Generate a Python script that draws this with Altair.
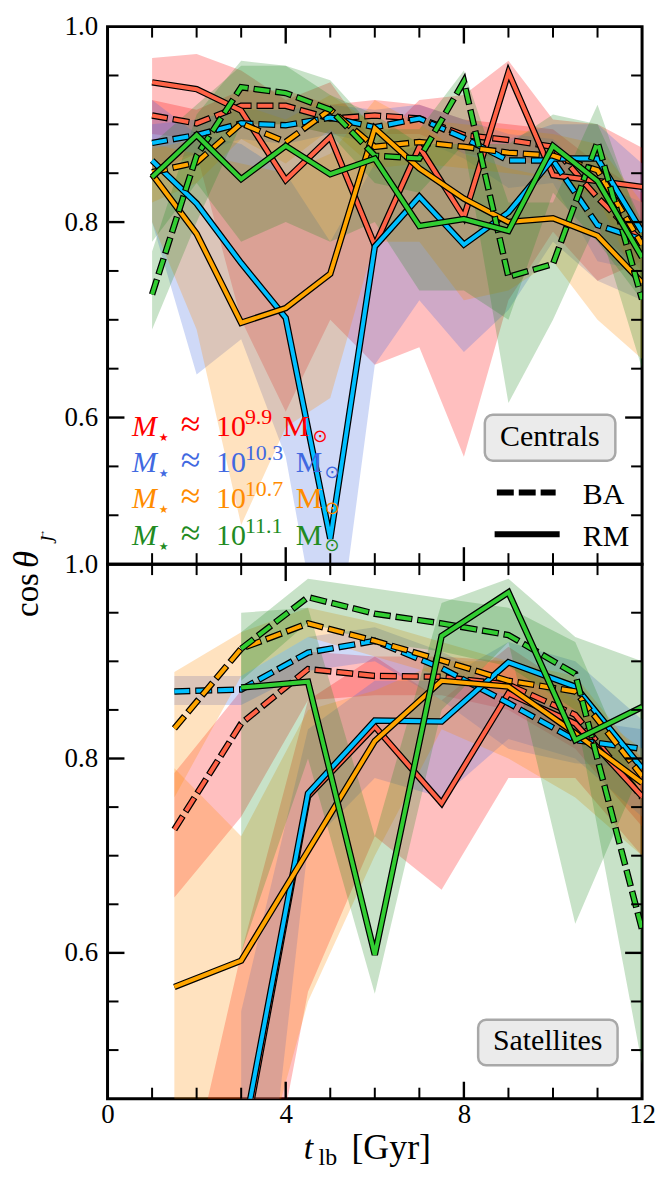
import altair as alt
import pandas as pd

# ---------------- data ----------------
t_cen = [1, 2, 3, 4, 5, 6, 7, 8, 9, 10, 11, 12]
t_sat = [1.5, 3, 4.5, 6, 7.5, 9, 10.5, 12]

# Centrals
cen_ba_99 = [0.909, 0.901, 0.919, 0.919, 0.906, 0.909, 0.906, 0.889, 0.884, 0.877, 0.825, 0.780]
cen_ba_99_lo = [0.890, 0.885, 0.900, 0.900, 0.890, 0.890, 0.890, 0.870, 0.865, 0.855, 0.790, 0.750]
cen_ba_99_hi = [0.925, 0.915, 0.935, 0.935, 0.920, 0.925, 0.920, 0.905, 0.900, 0.895, 0.860, 0.830]
cen_rm_99 = [0.943, 0.936, 0.914, 0.843, 0.887, 0.776, 0.877, 0.805, 0.953, 0.848, 0.842, 0.836]
cen_rm_99_lo = [0.850, 0.870, 0.700, 0.606, 0.700, 0.654, 0.672, 0.560, 0.720, 0.790, 0.740, 0.760]
cen_rm_99_hi = [0.968, 0.972, 0.955, 0.925, 0.943, 0.880, 0.925, 0.930, 0.965, 0.905, 0.900, 0.876]

cen_ba_103 = [0.881, 0.889, 0.901, 0.899, 0.907, 0.897, 0.906, 0.886, 0.863, 0.863, 0.797, 0.782]
cen_ba_103_lo = [0.860, 0.870, 0.885, 0.880, 0.890, 0.880, 0.885, 0.865, 0.835, 0.840, 0.760, 0.750]
cen_ba_103_hi = [0.900, 0.905, 0.915, 0.915, 0.920, 0.915, 0.920, 0.905, 0.890, 0.885, 0.840, 0.820]
cen_rm_103 = [0.863, 0.819, 0.758, 0.702, 0.476, 0.775, 0.826, 0.777, 0.810, 0.865, 0.865, 0.790]
cen_rm_103_lo = [0.800, 0.644, 0.680, 0.560, 0.310, 0.654, 0.720, 0.667, 0.710, 0.780, 0.740, 0.720]
cen_rm_103_hi = [0.925, 0.890, 0.880, 0.850, 0.780, 0.860, 0.880, 0.875, 0.885, 0.900, 0.900, 0.860]

cen_ba_107 = [0.851, 0.861, 0.901, 0.882, 0.915, 0.877, 0.882, 0.877, 0.871, 0.868, 0.853, 0.777]
cen_ba_107_lo = [0.820, 0.840, 0.885, 0.860, 0.895, 0.855, 0.860, 0.855, 0.850, 0.845, 0.825, 0.730]
cen_ba_107_hi = [0.875, 0.885, 0.920, 0.905, 0.930, 0.900, 0.905, 0.900, 0.895, 0.890, 0.880, 0.820]
cen_rm_107 = [0.849, 0.788, 0.697, 0.712, 0.747, 0.896, 0.855, 0.824, 0.800, 0.804, 0.786, 0.738]
cen_rm_107_lo = [0.800, 0.690, 0.490, 0.590, 0.620, 0.780, 0.780, 0.720, 0.730, 0.760, 0.700, 0.660]
cen_rm_107_hi = [0.880, 0.870, 0.860, 0.850, 0.870, 0.925, 0.900, 0.870, 0.855, 0.845, 0.835, 0.800]

cen_ba_111 = [0.726, 0.868, 0.938, 0.932, 0.915, 0.868, 0.865, 0.944, 0.744, 0.757, 0.882, 0.721]
cen_ba_111_lo = [0.690, 0.800, 0.900, 0.900, 0.890, 0.840, 0.830, 0.880, 0.615, 0.700, 0.800, 0.650]
cen_ba_111_hi = [0.770, 0.910, 0.965, 0.960, 0.945, 0.895, 0.895, 0.955, 0.820, 0.820, 0.920, 0.790]
cen_rm_111 = [0.846, 0.889, 0.844, 0.878, 0.849, 0.865, 0.796, 0.803, 0.791, 0.878, 0.842, 0.764]
cen_rm_111_lo = [0.780, 0.840, 0.780, 0.800, 0.780, 0.800, 0.730, 0.730, 0.700, 0.830, 0.780, 0.720]
cen_rm_111_hi = [0.880, 0.920, 0.960, 0.960, 0.930, 0.910, 0.880, 0.880, 0.880, 0.910, 0.900, 0.800]

# Satellites
sat_ba_99 = [0.727, 0.836, 0.892, 0.885, 0.884, 0.876, 0.845, 0.760]
sat_ba_99_lo = [0.657, 0.740, 0.860, 0.865, 0.865, 0.850, 0.810, 0.730]
sat_ba_99_hi = [0.785, 0.870, 0.910, 0.905, 0.905, 0.900, 0.875, 0.790]
sat_rm_99 = [None, 0.390, 0.761, 0.833, 0.754, 0.867, 0.836, 0.761]
sat_rm_99_lo = [0.100, 0.200, 0.560, 0.720, 0.665, 0.780, 0.780, 0.700]
sat_rm_99_hi = [0.300, 0.600, 0.860, 0.905, 0.860, 0.915, 0.870, 0.800]

sat_ba_103 = [0.869, 0.871, 0.909, 0.921, 0.893, 0.857, 0.819, 0.810]
sat_ba_103_lo = [0.855, 0.855, 0.890, 0.900, 0.860, 0.810, 0.795, 0.790]
sat_ba_103_hi = [0.885, 0.885, 0.925, 0.935, 0.910, 0.875, 0.840, 0.830]
sat_rm_103 = [None, 0.400, 0.764, 0.839, 0.838, 0.899, 0.874, 0.790]
sat_rm_103_lo = [None, 0.100, 0.710, 0.780, 0.760, 0.820, 0.800, 0.740]
sat_rm_103_hi = [None, 0.540, 0.830, 0.880, 0.880, 0.920, 0.900, 0.840]

sat_ba_107 = [0.831, 0.913, 0.939, 0.921, 0.901, 0.880, 0.869, 0.782]
sat_ba_107_lo = [0.760, 0.885, 0.925, 0.905, 0.885, 0.865, 0.850, 0.760]
sat_ba_107_hi = [0.889, 0.930, 0.955, 0.940, 0.920, 0.900, 0.885, 0.800]
sat_rm_107 = [0.565, 0.592, 0.705, 0.818, 0.880, 0.874, 0.826, 0.775]
sat_rm_107_lo = [0.200, 0.300, 0.550, 0.700, 0.830, 0.800, 0.760, 0.700]
sat_rm_107_hi = [0.790, 0.720, 0.850, 0.870, 0.900, 0.900, 0.860, 0.810]

sat_ba_111 = [None, 0.913, 0.966, 0.949, 0.939, 0.927, 0.887, 0.624]
sat_ba_111_lo = [None, 0.880, 0.940, 0.920, 0.910, 0.895, 0.850, 0.485]
sat_ba_111_hi = [None, 0.930, 0.985, 0.975, 0.965, 0.955, 0.920, 0.760]
sat_rm_111 = [None, 0.873, 0.879, 0.598, 0.926, 0.971, 0.819, 0.853]
sat_rm_111_lo = [None, 0.600, 0.800, 0.558, 0.850, 0.920, 0.630, 0.790]
sat_rm_111_hi = [None, 0.950, 0.955, 0.720, 0.960, 0.985, 0.925, 0.900]

mass_keys = ["99", "103", "107", "111"]
mass_exp = ["9.9", "10.3", "10.7", "11.1"]

x_major = [4, 8]
x_minor = [1, 2, 3, 5, 6, 7, 9, 10, 11]
y_major = [0.6, 0.8]
y_minor = [0.5, 0.55, 0.65, 0.7, 0.75, 0.85, 0.9, 0.95]

# ---------------- styling ----------------
W = 537
H_TOP = 540
H_BOT = 537
SERIF = "Liberation Serif, DejaVu Serif, serif"
SYM = "DejaVu Sans, sans-serif"
BAND_COLORS = {"99": "red", "103": "royalblue", "107": "darkorange", "111": "forestgreen"}
LINE_COLORS = {"99": "tomato", "103": "deepskyblue", "107": "orange", "111": "limegreen"}
TEXT_COLORS = {"99": "red", "103": "royalblue", "107": "darkorange", "111": "forestgreen"}

xs = alt.Scale(domain=[0, 12], nice=False, zero=False)
ys = alt.Scale(domain=[0.45, 1.0], nice=False, zero=False)

ax_y = alt.Axis(values=[0.6, 0.8, 1.0], format=".1f", labelFlush=False, labelPadding=10,
                labelOverlap=False)
ax_x_bot = alt.Axis(values=[0, 4, 8, 12], format="d", labelFlush=False, labelPadding=3,
                    labelOverlap=False)

cen = {
    "99": (cen_ba_99, cen_ba_99_lo, cen_ba_99_hi, cen_rm_99, cen_rm_99_lo, cen_rm_99_hi),
    "103": (cen_ba_103, cen_ba_103_lo, cen_ba_103_hi, cen_rm_103, cen_rm_103_lo, cen_rm_103_hi),
    "107": (cen_ba_107, cen_ba_107_lo, cen_ba_107_hi, cen_rm_107, cen_rm_107_lo, cen_rm_107_hi),
    "111": (cen_ba_111, cen_ba_111_lo, cen_ba_111_hi, cen_rm_111, cen_rm_111_lo, cen_rm_111_hi),
}
sat = {
    "99": (sat_ba_99, sat_ba_99_lo, sat_ba_99_hi, sat_rm_99, sat_rm_99_lo, sat_rm_99_hi),
    "103": (sat_ba_103, sat_ba_103_lo, sat_ba_103_hi, sat_rm_103, sat_rm_103_lo, sat_rm_103_hi),
    "107": (sat_ba_107, sat_ba_107_lo, sat_ba_107_hi, sat_rm_107, sat_rm_107_lo, sat_rm_107_hi),
    "111": (sat_ba_111, sat_ba_111_lo, sat_ba_111_hi, sat_rm_111, sat_rm_111_lo, sat_rm_111_hi),
}


def X(field, ax):
    return alt.X(field, type="quantitative", scale=xs, axis=ax, title=None)


def Y(field):
    return alt.Y(field, type="quantitative", scale=ys, axis=ax_y, title=None)


def data_layers(t, table, ax_x):
    layers = []
    # bands first
    for k in mass_keys:
        ba, ba_lo, ba_hi, rm, rm_lo, rm_hi = table[k]
        for lo, hi in ((ba_lo, ba_hi), (rm_lo, rm_hi)):
            df = pd.DataFrame({"t": t, "lo": lo, "hi": hi}).dropna()
            layers.append(
                alt.Chart(df).mark_area(color=BAND_COLORS[k], opacity=0.25, clip=True).encode(
                    x=X("t", ax_x), y=Y("lo"), y2="hi")
            )
    # lines with black outline
    for k in mass_keys:
        ba, ba_lo, ba_hi, rm, rm_lo, rm_hi = table[k]
        for vals, dashed in ((ba, True), (rm, False)):
            df = pd.DataFrame({"t": t, "v": vals}).dropna()
            if dashed:
                outer = alt.Chart(df).mark_line(color="black", strokeWidth=6.5, strokeDash=[17, 5],
                                                strokeDashOffset=1, clip=True)
                inner = alt.Chart(df).mark_line(color=LINE_COLORS[k], strokeWidth=4, strokeDash=[15, 7],
                                                clip=True)
            else:
                outer = alt.Chart(df).mark_line(color="black", strokeWidth=6.5, clip=True)
                inner = alt.Chart(df).mark_line(color=LINE_COLORS[k], strokeWidth=4, clip=True)
            layers.append(outer.encode(x=X("t", ax_x), y=Y("v")))
            layers.append(inner.encode(x=X("t", ax_x), y=Y("v")))
    return layers


def tick_layers(height, ax_x):
    layers = []
    for vals, L, sw in ((x_major, 17, 2.4), (x_minor, 11, 2.0)):
        df = pd.DataFrame({"v": vals})
        layers.append(alt.Chart(df).mark_rule(color="black", strokeWidth=sw).encode(
            x=X("v", ax_x), y=alt.value(height), y2=alt.value(height - L)))
        layers.append(alt.Chart(df).mark_rule(color="black", strokeWidth=sw).encode(
            x=X("v", ax_x), y=alt.value(0), y2=alt.value(L)))
    for vals, L, sw in ((y_major, 17, 2.4), (y_minor, 11, 2.0)):
        df = pd.DataFrame({"v": vals})
        layers.append(alt.Chart(df).mark_rule(color="black", strokeWidth=sw).encode(
            y=Y("v"), x=alt.value(0), x2=alt.value(L)))
        layers.append(alt.Chart(df).mark_rule(color="black", strokeWidth=sw).encode(
            y=Y("v"), x=alt.value(W), x2=alt.value(W - L)))
    return layers


def text_at(x, y, s, ax_x, **kw):
    df = pd.DataFrame({"x": [x], "y": [y], "s": [s]})
    return alt.Chart(df).mark_text(**kw).encode(x=X("x", ax_x), y=Y("y"), text="s:N")


def box(x1, x2, y1, y2, ax_x):
    df = pd.DataFrame({"x1": [x1], "x2": [x2], "y1": [y1], "y2": [y2]})
    return alt.Chart(df).mark_rect(fill="#ebebeb", stroke="#a8a8a8", strokeWidth=2.5,
                                   cornerRadius=8).encode(
        x=X("x1", ax_x), x2="x2", y=Y("y1"), y2="y2")


# ---------------- top panel (Centrals) ----------------
top_layers = data_layers(t_cen, cen, None) + tick_layers(H_TOP, None)

# mass legend
row_y = [0.581, 0.544, 0.507, 0.470]
x0 = 0.547
for k, e, yy in zip(mass_keys, mass_exp, row_y):
    c = TEXT_COLORS[k]
    wide = len(e) > 3
    parts = [
        ("M", 0, 0, SERIF, 30, "italic"),
        ("\u2605", 27, 5, SYM, 11, "normal"),
        ("\u2248", 49, 0, SERIF, 36, "normal"),
        ("10", 84.5, 0, SERIF, 30, "normal"),
        (e, 113.5, -12, SERIF, 22, "normal"),
        ("M", 164.5 if wide else 151.5, 0, SERIF, 30, "normal"),
        ("\u2299", 193.5 if wide else 181.5, 6, SYM, 18, "normal"),
    ]
    for s, dx, dy, f, fs, st in parts:
        top_layers.append(text_at(x0, yy, s, None, align="left", baseline="alphabetic", dx=dx, dy=dy,
                                  font=f, fontSize=fs, fontStyle=st, color=c))

# Centrals box
top_layers.append(box(8.47, 11.40, 0.6028, 0.5559, None))
top_layers.append(text_at(9.93, 0.5705, "Centrals", None, align="center", baseline="alphabetic",
                          font=SERIF, fontSize=30, color="black"))

# line-style legend
df_ba = pd.DataFrame({"x": [8.74], "x2": [10.06], "y": [0.5233]})
df_rm = pd.DataFrame({"x": [8.69], "x2": [10.15], "y": [0.4805]})
top_layers.append(alt.Chart(df_ba).mark_rule(color="black", strokeWidth=6, strokeDash=[17, 5]).encode(
    x=X("x", None), x2="x2", y=Y("y")))
top_layers.append(alt.Chart(df_rm).mark_rule(color="black", strokeWidth=6).encode(
    x=X("x", None), x2="x2", y=Y("y")))
top_layers.append(text_at(10.67, 0.5111, "BA", None, align="left", baseline="alphabetic",
                          font=SERIF, fontSize=30, color="black"))
top_layers.append(text_at(10.67, 0.4686, "RM", None, align="left", baseline="alphabetic",
                          font=SERIF, fontSize=30, color="black"))

top = alt.layer(*top_layers).properties(width=W, height=H_TOP)

# ---------------- bottom panel (Satellites) ----------------
bot_layers = data_layers(t_sat, sat, ax_x_bot) + tick_layers(H_BOT, ax_x_bot)
bot_layers.append(box(8.32, 11.45, 0.5312, 0.4845, ax_x_bot))
bot_layers.append(text_at(9.88, 0.4999, "Satellites", ax_x_bot, align="center", baseline="alphabetic",
                          font=SERIF, fontSize=30, color="black"))


def px_text(s, px, py, **kw):
    df = pd.DataFrame({"s": [s]})
    return alt.Chart(df).mark_text(**kw).encode(x=alt.value(px), y=alt.value(py), text="s:N")


# y title (rotated), centred on the panel junction
bot_layers.append(px_text("cos", -70, 53, angle=270, align="left", baseline="alphabetic",
                          font=SERIF, fontSize=33, color="black"))
bot_layers.append(px_text("\u03b8", -70, 4, angle=270, align="left", baseline="alphabetic",
                          font=SERIF, fontSize=35, fontStyle="italic", color="black"))
bot_layers.append(px_text("\u0237", -57, -23, angle=270, align="left", baseline="alphabetic",
                          font=SERIF, fontSize=22, fontStyle="italic", color="black"))
bot_layers.append(px_text("\u2192", -63, -23, angle=270, align="left", baseline="alphabetic",
                          font=SERIF, fontSize=13, color="black"))
# x title
bot_layers.append(px_text("t", 197, 598, align="left", baseline="alphabetic",
                          font=SERIF, fontSize=34, fontStyle="italic", color="black"))
bot_layers.append(px_text("lb", 212, 604, align="left", baseline="alphabetic",
                          font=SERIF, fontSize=24, color="black"))
bot_layers.append(px_text("[Gyr]", 245, 598, align="left", baseline="alphabetic",
                          font=SERIF, fontSize=36, color="black"))

bottom = alt.layer(*bot_layers).properties(width=W, height=H_BOT)

chart = (
    alt.vconcat(top, bottom, spacing=0, bounds="flush")
    .properties(padding={"left": 0, "top": 0, "right": 0, "bottom": 4}, background="white")
    .configure_view(stroke="black", strokeWidth=3)
    .configure_axis(grid=False, domain=False, ticks=False, labelFont=SERIF, labelFontSize=27,
                    labelColor="black")
)

chart.save("out.html", embed_options={"renderer": "svg", "actions": False})
